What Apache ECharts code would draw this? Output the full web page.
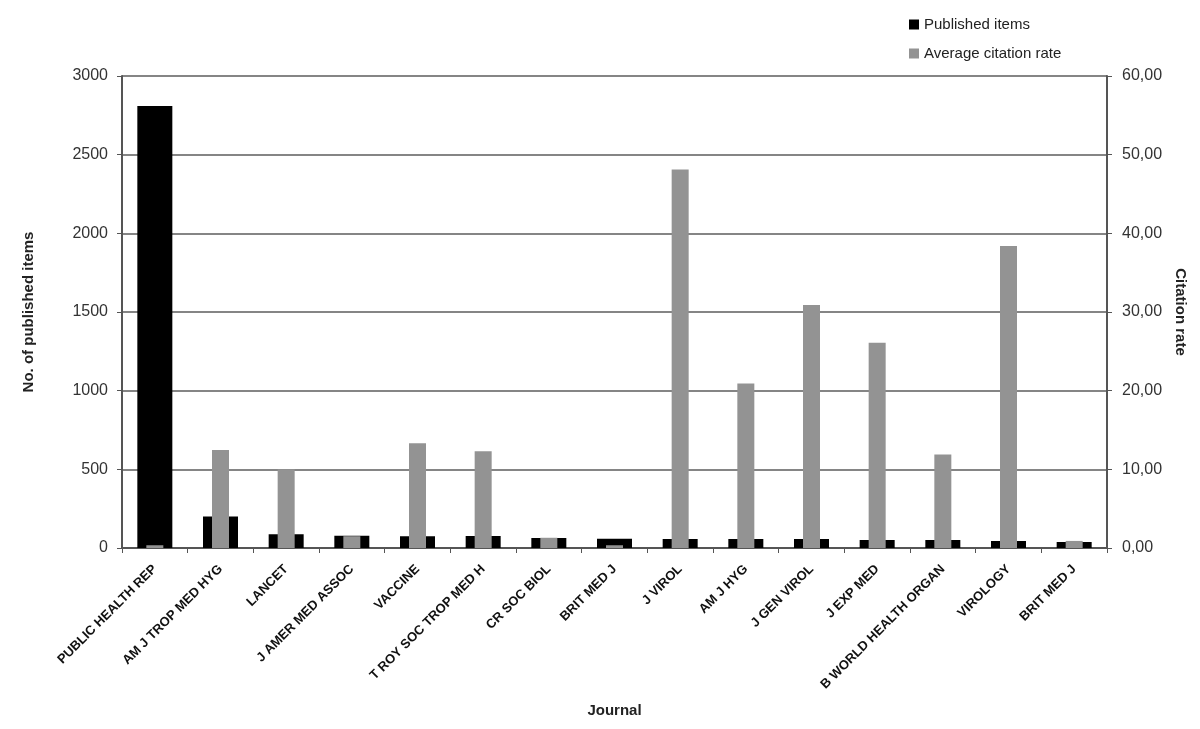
<!DOCTYPE html>
<html>
<head>
<meta charset="utf-8">
<script src="https://cdn.jsdelivr.net/npm/echarts@6/dist/echarts.min.js"></script>
<style>
html,body{margin:0;padding:0;background:#fff;}
#chart{width:1200px;height:729px;}
</style>
</head>
<body>
<div id="chart"></div>
<script>
var categories = ['PUBLIC HEALTH REP','AM J TROP MED HYG','LANCET','J AMER MED ASSOC','VACCINE','T ROY SOC TROP MED H','CR SOC BIOL','BRIT MED J','J VIROL','AM J HYG','J GEN VIROL','J EXP MED','B WORLD HEALTH ORGAN','VIROLOGY','BRIT MED J'];
var publishedItems = [2810, 200, 88, 78, 75, 76, 64, 58, 57, 57, 57, 51, 51, 45, 38];
var citationRate = [0.35, 12.45, 10.0, 1.5, 13.3, 12.3, 1.3, 0.35, 48.1, 20.9, 30.9, 26.1, 11.9, 38.4, 0.9];
var leftTicks = {min: 0, max: 3000, interval: 500};
var rightTicks = {min: 0, max: 60, interval: 10};

var FONT = '"Liberation Sans", Arial, sans-serif';
var chart = echarts.init(document.getElementById('chart'), null, {renderer: 'canvas'});
chart.setOption({
  animation: false,
  backgroundColor: '#fff',
  textStyle: {fontFamily: FONT},
  legend: {
    orient: 'vertical',
    left: 909,
    top: 17,
    padding: 0,
    itemWidth: 10,
    itemHeight: 10,
    itemGap: 14,
    icon: 'rect',
    textStyle: {fontFamily: FONT, fontSize: 15, color: '#222'},
    data: ['Published items', 'Average citation rate']
  },
  grid: {left: 122, right: 93, top: 76, bottom: 181, containLabel: false},
  xAxis: [{
    type: 'category',
    data: categories,
    name: 'Journal',
    nameLocation: 'middle',
    nameGap: 155,
    nameTextStyle: {fontFamily: FONT, fontSize: 15, fontWeight: 'bold', color: '#222'},
    axisLine: {lineStyle: {color: '#555', width: 2}},
    axisTick: {show: true, alignWithLabel: false, length: 5, lineStyle: {color: '#555', width: 1}},
    axisLabel: {interval: 0, rotate: 45, margin: 19, fontFamily: FONT, fontSize: 13, fontWeight: 'bold', color: '#111'},
    splitLine: {show: false}
  }, {
    type: 'category',
    data: categories,
    show: false,
    position: 'bottom'
  }],
  yAxis: [{
    type: 'value',
    position: 'left',
    min: leftTicks.min, max: leftTicks.max, interval: leftTicks.interval,
    name: 'No. of published items',
    nameLocation: 'middle',
    nameGap: 86,
    nameRotate: 90,
    nameTextStyle: {fontFamily: FONT, fontSize: 15, fontWeight: 'bold', color: '#222'},
    axisLine: {show: true, lineStyle: {color: '#555', width: 2}},
    axisTick: {show: true, length: 5, lineStyle: {color: '#555', width: 1}},
    axisLabel: {margin: 14, fontFamily: FONT, fontSize: 16, color: '#333',
      formatter: function (v) { return String(v); }},
    splitLine: {show: true, lineStyle: {color: '#858585', width: 2}}
  }, {
    type: 'value',
    position: 'right',
    min: rightTicks.min, max: rightTicks.max, interval: rightTicks.interval,
    name: 'Citation rate',
    nameLocation: 'middle',
    nameGap: 66,
    nameRotate: -90,
    nameTextStyle: {fontFamily: FONT, fontSize: 15, fontWeight: 'bold', color: '#222'},
    axisLine: {show: true, lineStyle: {color: '#555', width: 2}},
    axisTick: {show: true, length: 5, lineStyle: {color: '#555', width: 1}},
    axisLabel: {margin: 15, fontFamily: FONT, fontSize: 16, color: '#333',
      formatter: function (v) { return v.toFixed(2).replace('.', ','); }},
    splitLine: {show: false}
  }],
  series: [{
    name: 'Published items',
    type: 'bar',
    xAxisIndex: 0,
    yAxisIndex: 0,
    barWidth: 35,
    itemStyle: {color: '#000000'},
    data: publishedItems,
    z: 2
  }, {
    name: 'Average citation rate',
    type: 'bar',
    xAxisIndex: 1,
    yAxisIndex: 1,
    barWidth: 17,
    itemStyle: {color: '#939393'},
    data: citationRate,
    z: 3
  }]
});
</script>
</body>
</html>
